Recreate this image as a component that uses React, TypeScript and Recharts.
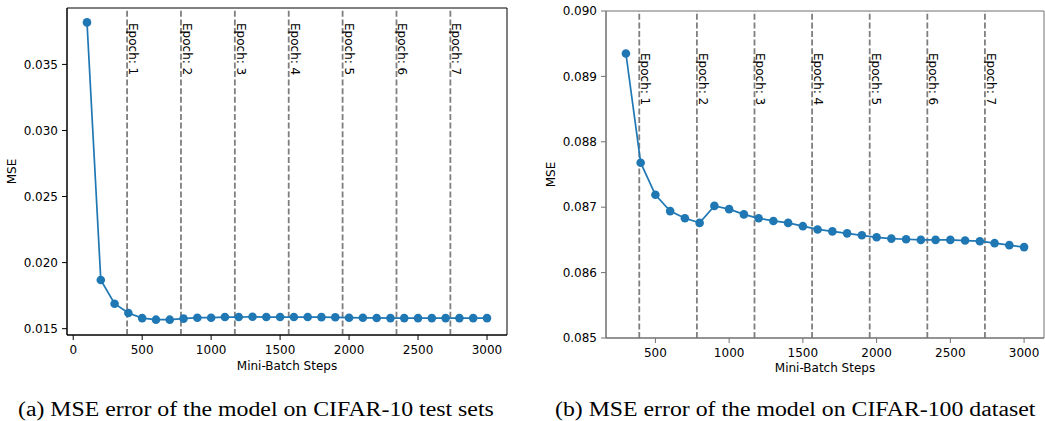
import React from "react";
import {
    LineChart,
    Line,
    XAxis,
    YAxis,
    ReferenceLine,
    ReferenceArea,
} from "recharts";

// mini-batch steps (x) and MSE readings for both runs
const stepsA = [100, 200, 300, 400, 500, 600, 700, 800, 900, 1000, 1100, 1200, 1300, 1400, 1500,
    1600, 1700, 1800, 1900, 2000, 2100, 2200, 2300, 2400, 2500, 2600, 2700, 2800, 2900, 3000];
const mseA = [0.03818, 0.01868, 0.01689, 0.01618, 0.0158, 0.01568, 0.01568, 0.01576, 0.01583, 0.01583,
    0.01588, 0.01588, 0.0159, 0.01588, 0.01588, 0.01588, 0.01588, 0.01587, 0.01586, 0.01583,
    0.01582, 0.01581, 0.0158, 0.0158, 0.0158, 0.0158, 0.0158, 0.0158, 0.0158, 0.0158];

const stepsB = [300, 400, 500, 600, 700, 800, 900, 1000, 1100, 1200, 1300, 1400, 1500, 1600,
    1700, 1800, 1900, 2000, 2100, 2200, 2300, 2400, 2500, 2600, 2700, 2800, 2900, 3000];
const mseB = [0.08935, 0.08768, 0.08719, 0.08694, 0.08683, 0.08676, 0.08702, 0.08697, 0.08689, 0.08683,
    0.08679, 0.08676, 0.08671, 0.08666, 0.08663, 0.0866, 0.08657, 0.08654, 0.08652, 0.08651,
    0.0865, 0.0865, 0.0865, 0.08649, 0.08648, 0.08645, 0.08642, 0.08639];

// epoch boundaries (steps)
const epochSteps = [390.6, 781.3, 1171.9, 1562.5, 1953.1, 2343.8, 2734.4];
const epochNames = ["Epoch: 1", "Epoch: 2", "Epoch: 3", "Epoch: 4", "Epoch: 5", "Epoch: 6", "Epoch: 7"];

const xTicksA = [0, 500, 1000, 1500, 2000, 2500, 3000];
const xTicksB = [500, 1000, 1500, 2000, 2500, 3000];
const yTicksA = [0.015, 0.02, 0.025, 0.03, 0.035];
const yTicksB = [0.085, 0.086, 0.087, 0.088, 0.089, 0.09];

const xDomainA: [number, number] = [-45, 3145];
const yDomainA: [number, number] = [0.01452, 0.03927];
const xDomainB: [number, number] = [165, 3135];
const yDomainB: [number, number] = [0.085, 0.09];

const dataA = stepsA.map((s, i) => ({ step: s, mse: mseA[i] }));
const dataB = stepsB.map((s, i) => ({ step: s, mse: mseB[i] }));

const FONT = "DejaVu Sans";
const BLUE = "#1f77b4";

const epochLabel = (text: string, dy: number) => (props: any) => {
    const vb = props.viewBox;
    const x = vb.x + 2;
    const y = vb.y + dy;
    return (
        <text x={x} y={y} transform={`rotate(90 ${x} ${y})`} textAnchor="start"
            fontSize={12} fontFamily={FONT} fill="#000">
            {text}
        </text>
    );
};

const yLabel = (cx: number) => (props: any) => {
    const vb = props.viewBox;
    const cy = vb.y + vb.height / 2;
    return (
        <text x={cx} y={cy} transform={`rotate(-90 ${cx} ${cy})`} textAnchor="middle"
            dominantBaseline="central" fontSize={12} fontFamily={FONT} fill="#000">
            MSE
        </text>
    );
};

const xLabel = (dy: number) => (props: any) => {
    const vb = props.viewBox;
    return (
        <text x={vb.x + vb.width / 2} y={vb.y + dy} textAnchor="middle"
            fontSize={12} fontFamily={FONT} fill="#000">
            Mini-Batch Steps
        </text>
    );
};

interface PanelProps {
    data: { step: number; mse: number }[];
    width: number;
    height: number;
    margin: { top: number; right: number; left: number; bottom: number };
    yWidth: number;
    xHeight: number;
    xDomain: [number, number];
    yDomain: [number, number];
    xTicks: number[];
    yTicks: number[];
    frame: string;
    epochDy: number;
    yLabelX: number;
    xLabelDy: number;
}

const Panel: React.FC<PanelProps> = (p) => {
    const tick = { fill: "#000", fontSize: 12, fontFamily: FONT };
    return (
        <LineChart width={p.width} height={p.height} data={p.data} margin={p.margin}>
            <XAxis
                dataKey="step"
                type="number"
                domain={p.xDomain}
                ticks={p.xTicks}
                allowDataOverflow
                height={p.xHeight}
                tickSize={5}
                tickMargin={5}
                tick={tick}
                axisLine={{ stroke: p.frame }}
                tickLine={{ stroke: p.frame }}
                label={xLabel(p.xLabelDy)}
            />
            <YAxis
                type="number"
                domain={p.yDomain}
                ticks={p.yTicks}
                allowDataOverflow
                width={p.yWidth}
                tickSize={5}
                tickMargin={4}
                tick={tick}
                tickFormatter={(v: number) => v.toFixed(3)}
                axisLine={{ stroke: p.frame }}
                tickLine={{ stroke: p.frame }}
                label={yLabel(p.yLabelX)}
            />
            <ReferenceArea
                x1={p.xDomain[0]}
                x2={p.xDomain[1]}
                y1={p.yDomain[0]}
                y2={p.yDomain[1]}
                fill="none"
                fillOpacity={0}
                stroke={p.frame}
                strokeWidth={1}
            />
            {epochSteps.map((e, i) => (
                <ReferenceLine
                    key={e}
                    x={e}
                    stroke="#7f7f7f"
                    strokeWidth={1.8}
                    strokeDasharray="6 2.6"
                    label={epochLabel(epochNames[i], p.epochDy)}
                />
            ))}
            <Line
                type="linear"
                dataKey="mse"
                stroke={BLUE}
                strokeWidth={1.7}
                dot={{ r: 4.3, fill: BLUE, stroke: "none" }}
                activeDot={false}
                isAnimationActive={false}
            />
        </LineChart>
    );
};

const captionStyle: React.CSSProperties = {
    position: "absolute",
    top: 397,
    fontFamily: "Liberation Serif",
    fontSize: 20.5,
    whiteSpace: "nowrap",
    color: "#000",
    lineHeight: "24px",
    transform: "scaleX(1.16)",
    transformOrigin: "left center",
};

export default function App() {
    return (
        <div style={{ position: "absolute", left: 0, top: 0, width: 1045, height: 421, background: "#fff", overflow: "hidden" }}>
            <div style={{ position: "absolute", left: 0, top: 0 }}>
                <Panel
                    data={dataA}
                    width={520}
                    height={380}
                    margin={{ top: 8, right: 13, left: 0, bottom: 0 }}
                    yWidth={67}
                    xHeight={45}
                    xDomain={xDomainA}
                    yDomain={yDomainA}
                    xTicks={xTicksA}
                    yTicks={yTicksA}
                    frame="#000"
                    epochDy={15}
                    yLabelX={12}
                    xLabelDy={35}
                />
            </div>
            <div style={{ position: "absolute", left: 520, top: 0 }}>
                <Panel
                    data={dataB}
                    width={525}
                    height={380}
                    margin={{ top: 11, right: 1, left: 0, bottom: 0 }}
                    yWidth={86}
                    xHeight={42}
                    xDomain={xDomainB}
                    yDomain={yDomainB}
                    xTicks={xTicksB}
                    yTicks={yTicksB}
                    frame="#707070"
                    epochDy={42}
                    yLabelX={31}
                    xLabelDy={34}
                />
            </div>
            <div style={{ ...captionStyle, left: 18 }}>(a) MSE error of the model on CIFAR-10 test sets</div>
            <div style={{ ...captionStyle, left: 555 }}>(b) MSE error of the model on CIFAR-100 dataset</div>
        </div>
    );
}
